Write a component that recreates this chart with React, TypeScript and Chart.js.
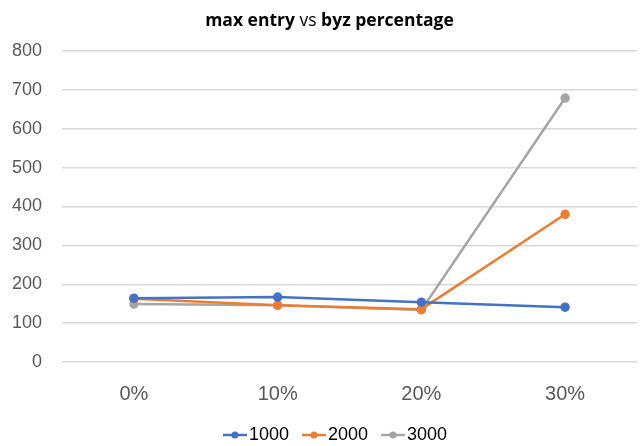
import { useEffect, useRef } from 'react';
import { Chart, ChartConfiguration, registerables } from 'chart.js';

Chart.register(...registerables);

const categories = ['0%', '10%', '20%', '30%'];
const series1000 = [164, 167, 154, 141];
const series2000 = [163, 146, 136, 380];
const series3000 = [149, 146, 134, 679];
const yTicks = [0, 100, 200, 300, 400, 500, 600, 700, 800];

const BLUE = '#4472C4';
const ORANGE = '#ED7D31';
const GRAY = '#A5A5A5';
const FONT = "'Liberation Sans', Arial, sans-serif";

// "line with a dot" marker for the legend, like Excel draws it.
// Chart.js centres the image on the legend box, so the line sits in the
// right part of a wider image to pull it closer to the text.
const legendMarker = (color: string) => {
  const c = document.createElement('canvas');
  c.width = 48;
  c.height = 10;
  const ctx = c.getContext('2d')!;
  ctx.strokeStyle = color;
  ctx.lineWidth = 2.5;
  ctx.beginPath();
  ctx.moveTo(22, 5);
  ctx.lineTo(46, 5);
  ctx.stroke();
  ctx.fillStyle = color;
  ctx.beginPath();
  ctx.arc(34, 5, 3.5, 0, Math.PI * 2);
  ctx.fill();
  return c;
};

// title with mixed weights: "max entry" bold, "vs" regular, "byz percentage" bold
const titleRuns = [
  { text: 'max entry ', bold: true },
  { text: 'vs ', bold: false },
  { text: 'byz percentage', bold: true },
];

const titlePlugin = {
  id: 'mixedTitle',
  afterDraw(chart: Chart) {
    const { ctx, width } = chart;
    ctx.save();
    ctx.fillStyle = '#000';
    ctx.textBaseline = 'alphabetic';
    const fontFor = (bold: boolean) =>
      `${bold ? 'bold ' : ''}17.5px 'Open Sans', sans-serif`;
    let total = 0;
    titleRuns.forEach((r) => {
      ctx.font = fontFor(r.bold);
      total += ctx.measureText(r.text).width;
    });
    let x = width / 2 + 8 - total / 2;
    titleRuns.forEach((r) => {
      ctx.font = fontFor(r.bold);
      ctx.fillText(r.text, x, 26);
      x += ctx.measureText(r.text).width;
    });
    ctx.restore();
  },
};

const makeDataset = (label: string, data: number[], color: string) => ({
  label,
  data,
  borderColor: color,
  backgroundColor: color,
  borderWidth: 2.5,
  pointRadius: 3.5,
  pointHoverRadius: 3.5,
  pointStyle: 'circle' as const,
  tension: 0,
});

export default function App() {
  const canvasRef = useRef<HTMLCanvasElement>(null);

  useEffect(() => {
    const markers = [legendMarker(BLUE), legendMarker(ORANGE), legendMarker(GRAY)];
    const config = {
      type: 'line',
      data: {
        labels: categories,
        datasets: [
          makeDataset('1000', series1000, BLUE),
          makeDataset('2000', series2000, ORANGE),
          makeDataset('3000', series3000, GRAY),
        ],
      },
      options: {
        animation: false,
        responsive: true,
        maintainAspectRatio: false,
        layout: { padding: { top: 51, left: 10, right: -4, bottom: -8 } },
        plugins: {
          title: { display: false },
          tooltip: { enabled: false },
          legend: {
            position: 'bottom',
            labels: {
              color: '#000',
              font: { family: FONT, size: 18 },
              usePointStyle: true,
              pointStyleWidth: 30,
              padding: 0,
              generateLabels: (chart: Chart) =>
                chart.data.datasets.map((ds, i) => ({
                  text: ds.label as string,
                  pointStyle: markers[i],
                  fillStyle: ds.borderColor as string,
                  strokeStyle: ds.borderColor as string,
                  lineWidth: 0,
                  fontColor: '#000',
                  hidden: false,
                  datasetIndex: i,
                })),
            },
          },
        },
        scales: {
          x: {
            offset: true,
            grid: { display: false, drawTicks: false },
            border: { display: false },
            ticks: { color: '#595959', font: { family: FONT, size: 20 }, padding: 20 },
          },
          y: {
            min: 0,
            max: 800,
            afterBuildTicks: (scale: any) => {
              scale.ticks = yTicks.map((v) => ({ value: v }));
            },
            grid: {
              color: '#D9D9D9',
              lineWidth: 1.5,
              drawTicks: true,
              tickLength: 18,
              tickColor: 'rgba(0,0,0,0)',
            },
            border: { display: false },
            ticks: { color: '#595959', font: { family: FONT, size: 18 }, padding: 2 },
          },
        },
      },
      plugins: [titlePlugin],
    } as unknown as ChartConfiguration;

    const chart = new Chart(canvasRef.current!, config);
    return () => {
      chart.destroy();
    };
  }, []);

  return (
    <div style={{ position: 'fixed', left: 0, top: 0, width: 643, height: 446, background: '#fff' }}>
      <canvas ref={canvasRef} />
    </div>
  );
}
